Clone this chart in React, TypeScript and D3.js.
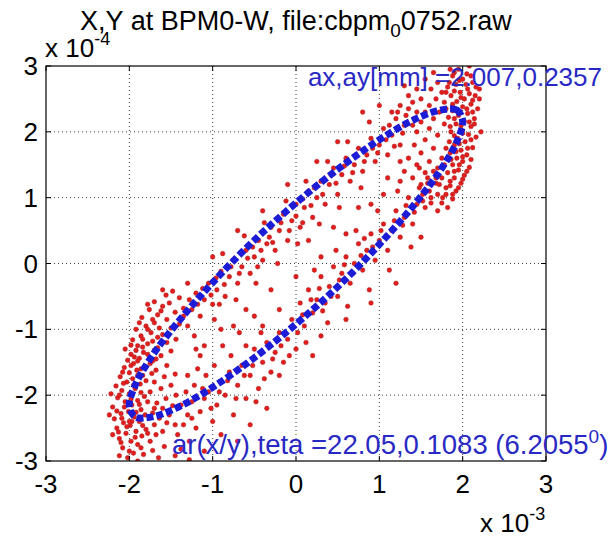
import React from "react";
import * as d3 from "d3";

// axis ticks (x in 1e-3, y in 1e-4)
const X_TICKS = [-3, -2, -1, 0, 1, 2, 3];
const Y_TICKS = [-3, -2, -1, 0, 1, 2, 3];

// fitted ellipse outline
const ELLIPSE_X = [2.0, 1.93, 1.73, 1.41, 1.0, 0.52, 0.0, -0.52, -1.0, -1.41, -1.73, -1.93, -2.0, -1.93, -1.73, -1.41, -1.0, -0.52, 0.0, 0.52, 1.0, 1.41, 1.73, 1.93];
const ELLIPSE_Y = [2.16, 2.33, 2.33, 2.18, 1.88, 1.45, 0.92, 0.33, -0.29, -0.88, -1.41, -1.85, -2.16, -2.33, -2.33, -2.18, -1.88, -1.45, -0.92, -0.33, 0.29, 0.88, 1.41, 1.85];

// measured beam positions (x 1e-3, y 1e-4)
const LEFT_END: [number, number][] = [
  [-2.02,-2.95],[-1.95,-2.88],[-2.08,-2.8],[-1.9,-2.75],[-1.98,-2.7],[-2.12,-2.66],[-1.85,-2.62],[-2.04,-2.58],[-1.92,-2.55],[-2.15,-2.5],
  [-1.8,-2.52],[-1.99,-2.46],[-2.07,-2.42],[-1.88,-2.4],[-2.18,-2.36],[-1.94,-2.33],[-1.76,-2.35],[-2.1,-2.28],[-2.01,-2.25],[-1.86,-2.22],
  [-2.2,-2.18],[-1.97,-2.15],[-2.05,-2.1],[-1.9,-2.08],[-2.14,-2.04],[-1.82,-2.02],[-2.0,-1.98],[-2.09,-1.93],[-1.93,-1.9],[-2.16,-1.86],
  [-1.87,-1.83],[-2.03,-1.8],[-1.96,-1.75],[-2.11,-1.72],[-1.84,-1.7],[-2.0,-1.66],[-1.91,-1.62],[-2.06,-1.58],[-1.8,-1.57],[-1.95,-1.52],
  [-2.02,-1.47],[-1.88,-1.44],[-1.98,-1.38],[-1.83,-1.35],[-2.05,-1.3],[-1.9,-1.25],[-1.78,-1.22],[-1.96,-1.16],[-1.86,-1.1],[-1.74,-1.05],
  [-1.92,-1.0],[-1.8,-0.95],[-1.7,-0.9],[-1.85,-0.82],[-1.66,-0.78],[-1.76,-0.7],[-1.6,-0.65],
  [-2.12,-2.92],[-1.83,-2.9],[-1.72,-2.84],[-1.65,-2.95],[-1.58,-2.78],[-1.75,-2.7],[-1.68,-2.6],[-1.6,-2.55],[-1.7,-2.45],[-1.55,-2.42],
  [-1.64,-2.35],[-1.52,-2.3],[-1.72,-2.27],[-1.6,-2.2],[-1.48,-2.16],[-1.67,-2.12],[-1.56,-2.05],[-1.44,-2.0],[-1.75,-1.95],[-1.62,-1.9],
  [-1.5,-1.85],[-1.7,-1.8],[-1.58,-1.72],[-1.45,-1.68],[-1.68,-1.62],[-1.55,-1.55],[-1.72,-1.48],[-1.62,-1.4],[-1.5,-1.33],[-1.66,-1.28],
  [-1.55,-1.2],[-1.44,-1.15],[-1.6,-1.08],[-1.5,-0.98],[-1.4,-0.92],[-1.55,-0.85],[-1.45,-0.74],[-1.35,-0.68],[-1.52,-0.6],[-1.4,-0.52],
  [-2.24,-2.3],[-2.22,-1.98],[-2.2,-2.6],[-1.9,-3.0],[-1.45,-2.92],[-1.28,-2.98],
  [-2.0,-2.85],[-1.86,-2.8],[-2.1,-2.72],[-1.93,-2.64],[-1.78,-2.58],[-2.13,-2.56],[-2.03,-2.48],[-1.84,-2.46],[-1.97,-2.4],[-2.09,-2.35],
  [-1.81,-2.3],[-1.92,-2.26],[-2.15,-2.24],[-1.7,-2.2],[-2.06,-2.18],[-1.88,-2.14],[-1.98,-2.06],[-1.78,-2.1],[-2.12,-2.0],[-1.86,-1.96],
  [-1.95,-1.85],[-2.07,-1.82],[-1.8,-1.78],[-1.9,-1.7],[-2.08,-1.65],[-1.73,-1.67],[-1.86,-1.6],[-1.98,-1.55],[-1.75,-1.52],[-1.9,-1.48],
  [-1.68,-1.45],[-1.94,-1.42],[-1.78,-1.38],[-1.92,-1.32],[-1.7,-1.32],[-1.84,-1.27],[-1.98,-1.24],[-1.72,-1.18],[-1.84,-1.15],[-1.66,-1.12],
  [-1.78,-1.0],[-1.64,-0.98],[-1.88,-0.9],[-1.72,-0.85],[-1.62,-0.72],[-1.56,-0.48],[-1.7,-0.58],[-1.48,-0.42],[-1.78,-0.62],[-2.0,-2.4]
];
const LOWER_LEFT: [number, number][] = [
  [-1.42,-2.6],[-1.35,-2.45],[-1.3,-2.3],[-1.38,-2.15],[-1.25,-2.1],[-1.32,-1.95],[-1.2,-2.5],[-1.15,-2.25],[-1.1,-2.05],[-1.22,-1.85],
  [-1.05,-1.95],[-1.0,-2.4],[-0.95,-2.15],[-0.9,-1.8],[-1.08,-1.7],[-0.85,-2.0],[-0.8,-1.65],[-0.75,-2.3],[-0.7,-1.85],[-0.65,-1.55],
  [-0.6,-2.05],[-0.55,-1.7],[-0.5,-1.3],[-0.45,-1.9],[-0.4,-1.5],[-0.35,-1.2],[-0.3,-1.65],[-0.25,-1.35],[-0.2,-1.05],[-0.15,-1.5],
  [-0.1,-1.15],[-0.05,-0.85],[0.0,-1.3],[-1.28,-2.7],[-1.1,-2.85],[-0.9,-2.6],[-0.7,-2.7],[-0.55,-2.45],[-0.35,-2.2],[-1.18,-1.6],
  [-0.98,-1.55],[-0.78,-1.4],[-0.6,-1.25],[-0.42,-1.05],[-1.3,-1.7],[-1.15,-1.4],[-0.88,-1.25],[-0.68,-1.05],[-0.5,-0.8],
  [-1.25,-2.35],[-1.12,-1.9],[-1.02,-2.2],[-0.92,-1.95],[-0.82,-1.78],[-0.72,-2.05],[-0.62,-1.7],[-0.52,-1.55],[-0.48,-2.1],[-0.38,-1.75],
  [-0.28,-1.45],[-0.18,-1.25],[-0.08,-1.4],[0.02,-1.05],[-1.45,-2.45],[-1.38,-2.82]
];
const UPPER_BRANCH: [number, number][] = [
  [-1.3,-0.95],[-1.25,-0.7],[-1.2,-0.45],[-1.15,-0.8],[-1.1,-0.55],[-1.05,-0.3],[-1.0,-0.62],[-0.95,-0.4],[-0.9,-0.12],[-0.85,-0.5],
  [-0.8,-0.2],[-0.75,0.05],[-0.7,-0.3],[-0.65,-0.05],[-0.6,0.2],[-0.55,-0.15],[-0.5,0.1],[-0.45,0.35],[-0.4,0.05],[-0.35,0.3],
  [-0.3,0.55],[-0.25,0.2],[-0.2,0.5],[-0.15,0.75],[-0.1,0.35],[-0.05,0.65],[0.0,0.9],[0.05,0.55],[0.1,0.85],[0.15,1.1],
  [0.2,0.7],[0.25,1.0],[0.3,1.25],[0.35,0.9],[0.4,1.2],[0.45,1.45],[0.5,1.05],[0.55,1.35],[0.6,1.6],[0.65,1.25],
  [0.7,1.5],[0.75,1.75],[0.8,1.4],[0.85,1.65],[0.9,1.9],[0.95,1.55],[1.0,1.8],[1.05,2.05],[1.1,1.65],[1.15,1.95],
  [1.2,2.2],[1.25,1.8],[1.3,2.1],[1.35,2.35],[-1.22,-1.1],[-0.98,-0.85],[-0.72,-0.55],[-0.48,-0.3],[-0.22,0.0],[0.02,0.3],
  [0.28,0.6],[0.52,0.85],[0.78,1.15],[-0.88,0.15],[-0.62,0.42],[-0.38,0.62],[-0.12,0.95],[0.12,1.25],[0.38,1.55],[0.62,1.85],[0.88,2.15],
  [-1.35,-0.8],[-1.28,-0.55],[-1.18,-0.62],[-1.12,-0.38],[-1.02,-0.48],[-0.96,-0.22],[-0.86,-0.32],[-0.78,-0.05],[-0.68,-0.15],[-0.58,0.08],
  [-0.52,0.25],[-0.42,0.2],[-0.32,0.4],[-0.28,0.32],[-0.18,0.62],[-0.08,0.5],[0.0,0.72],[0.08,0.98],[0.18,0.88],[0.22,1.15],
  [0.32,1.05],[0.42,1.35],[0.48,1.22],[0.58,1.48],[0.68,1.38],[0.72,1.65],[0.82,1.55],[0.92,1.75],[0.98,1.68],[1.08,1.88],
  [1.12,2.1],[1.18,1.78],[1.28,1.98],[1.32,2.25],[1.4,2.1],[1.22,2.3],[1.42,2.2],[-0.92,-0.62],[-0.46,-0.05],[0.08,0.62]
];
const LOWER_RIGHT: [number, number][] = [
  [0.05,-0.6],[0.1,-0.95],[0.15,-0.4],[0.2,-0.75],[0.25,-0.55],[0.3,-0.2],[0.35,-0.6],[0.4,-0.35],[0.45,-0.05],[0.5,-0.5],
  [0.55,-0.15],[0.6,0.1],[0.65,-0.3],[0.7,0.0],[0.75,0.3],[0.8,-0.1],[0.85,0.2],[0.9,0.45],[0.95,0.05],[1.0,0.35],
  [1.05,0.6],[1.1,0.2],[1.15,0.5],[1.2,0.8],[1.25,0.4],[1.3,0.7],[1.35,1.0],[1.4,0.6],[1.45,0.9],[1.5,1.2],
  [1.55,0.85],[1.6,1.1],[1.65,1.4],[1.7,1.05],[0.12,-1.2],[0.38,-0.9],[0.62,-0.65],[0.88,-0.4],[1.12,-0.1],[1.38,0.25],
  [0.22,-0.1],[0.48,0.2],[0.72,0.5],[0.98,0.8],[1.22,1.1],[1.48,1.45],
  [0.08,-0.78],[0.18,-0.55],[0.28,-0.38],[0.32,-0.72],[0.42,-0.5],[0.52,-0.25],[0.58,-0.02],[0.68,-0.15],[0.78,0.12],[0.82,0.38],
  [0.92,0.25],[1.02,0.5],[1.08,0.42],[1.18,0.65],[1.28,0.58],[1.32,0.88],[1.42,0.78],[1.52,1.05],[1.58,1.3],[1.62,0.92],
  [1.68,1.22],[1.75,1.3],[1.78,1.5],[1.8,1.75]
];
const RIGHT_END: [number, number][] = [
  [1.95,2.95],[2.05,2.88],[1.88,2.85],[2.0,2.8],[2.12,2.75],[1.92,2.72],[1.82,2.68],[2.06,2.65],[1.97,2.6],[2.15,2.55],
  [1.86,2.55],[2.02,2.5],[1.93,2.46],[2.1,2.42],[1.78,2.45],[2.0,2.38],[2.18,2.35],[1.88,2.32],[2.06,2.28],[1.95,2.25],
  [2.14,2.2],[1.83,2.22],[2.02,2.16],[1.92,2.12],[2.1,2.08],[1.98,2.04],[1.86,2.0],[2.07,1.96],[2.16,1.92],[1.94,1.9],
  [2.03,1.85],[1.9,1.8],[2.12,1.76],[1.98,1.72],[1.85,1.68],[2.05,1.65],[1.93,1.6],[2.0,1.55],[1.88,1.5],[2.08,1.46],
  [1.95,1.42],[1.82,1.38],[2.02,1.34],[1.9,1.3],[1.98,1.22],[1.85,1.18],[1.92,1.1],[1.8,1.05],[1.88,0.98],[1.75,0.92],
  [1.82,0.85],[1.7,0.8],[1.75,2.6],[1.68,2.5],[1.6,2.4],[1.72,2.3],[1.55,2.3],[1.65,2.2],[1.5,2.15],[1.78,2.12],
  [1.6,2.05],[1.45,2.0],[1.7,1.95],[1.55,1.88],[1.42,1.8],[1.65,1.75],[1.5,1.68],[1.75,1.6],[1.6,1.55],[1.45,1.5],
  [1.7,1.45],[1.55,1.38],[1.68,1.3],[1.58,1.22],[1.48,1.15],[1.72,1.2],[1.62,1.0],[1.52,0.95],[1.35,1.6],[1.3,1.4],
  [1.4,1.3],[1.25,1.55],[2.2,2.5],[2.22,2.0],[2.2,2.65],[1.85,2.95],[2.08,3.0],[1.7,2.75],[1.62,2.65],[1.5,2.5],
  [1.4,2.45],[1.45,2.3],[1.35,2.55],[1.25,2.4],[1.15,2.3],[1.3,2.7],[1.55,2.8],[1.45,2.65],[1.65,2.9],
  [1.9,2.9],[2.1,2.85],[1.96,2.78],[1.84,2.75],[2.04,2.72],[2.16,2.68],[1.9,2.62],[2.08,2.58],[1.8,2.6],[1.98,2.52],
  [2.12,2.48],[1.88,2.42],[2.05,2.35],[1.95,2.3],[1.8,2.35],[2.12,2.3],[1.9,2.2],[2.08,2.15],[1.98,2.1],[1.85,2.08],
  [2.14,2.12],[2.0,1.98],[1.9,1.94],[2.1,1.88],[1.96,1.82],[1.84,1.85],[2.06,1.75],[1.92,1.7],[2.0,1.62],[1.86,1.58],
  [2.1,1.58],[1.96,1.5],[2.05,1.4],[1.9,1.4],[1.85,1.25],[2.0,1.28],[1.95,1.15],[1.8,1.15],[1.88,1.05],[1.76,1.0]
];
const SCATTERED: [number, number][] = [
  [-0.9,-1.0],[-0.6,-0.7],[-0.3,-0.4],[0.0,-0.2],[0.3,0.1],[0.6,0.45],[0.9,0.9],[-1.1,-1.25],[-0.2,-0.7],[0.45,0.55],
  [1.1,1.3],[-0.75,-0.95],[0.15,0.35],[0.75,0.85],[1.05,1.05],[-0.4,-0.95],[-1.2,-1.3],[1.25,1.25],
  [-1.6,-0.4],[-1.3,-0.3],[-1.0,0.1],[-0.7,0.5],[-0.4,0.8],[-0.1,1.2],[0.25,1.55],[0.5,1.85],[0.8,2.3],[1.0,2.4],
  [0.3,-1.1],[0.6,-0.85],[0.9,-0.6],[1.2,-0.3],[1.5,0.4],[0.2,-1.4],[-0.2,-1.7]
];

const TITLE_MAIN = "X,Y at BPM0-W, file:cbpm";
const TITLE_SUB = "0";
const TITLE_TAIL = "0752.raw";
const ANNOT_TOP = "ax,ay[mm] =2.007,0.2357";
const ANNOT_BOTTOM = "ar(x/y),teta =22.05,0.1083 (6.2055";
const ANNOT_BOTTOM_SUP = "0";

const W = 614, H = 540;
const L = 46, R = 546, T = 66, B = 461;
const FONT = "'Liberation Sans', Arial, Helvetica, sans-serif";
const BLUE = "#1c1cd6";
const TEXT_BLUE = "#2828c4";

export default function App() {
  const x = d3.scaleLinear().domain([-3, 3]).range([L, R]);
  const y = d3.scaleLinear().domain([-3, 3]).range([B, T]);
  const pts = [...LEFT_END, ...LOWER_LEFT, ...UPPER_BRANCH, ...LOWER_RIGHT, ...RIGHT_END, ...SCATTERED];
  const ellipsePts: [number, number][] = ELLIPSE_X.map((v, i) => [v, ELLIPSE_Y[i]]);
  const ellipsePath = d3.line<[number, number]>().x(d => x(d[0])).y(d => y(d[1])).curve(d3.curveCatmullRomClosed)(ellipsePts) || "";

  return (
    <svg width={W} height={H} style={{ position: "absolute", left: 0, top: 0, background: "#fff" }} fontFamily={FONT}>
      <defs>
        <clipPath id="plotclip"><rect x={L} y={T} width={R - L} height={B - T} /></clipPath>
      </defs>
      <rect x={0} y={0} width={W} height={H} fill="#fff" />
      {X_TICKS.slice(1, -1).map(t => (
        <line key={"gx" + t} x1={x(t)} x2={x(t)} y1={T} y2={B} stroke="#444" strokeWidth={1} strokeDasharray="1,3" />
      ))}
      {Y_TICKS.slice(1, -1).map(t => (
        <line key={"gy" + t} x1={L} x2={R} y1={y(t)} y2={y(t)} stroke="#444" strokeWidth={1} strokeDasharray="1,3" />
      ))}
      <g clipPath="url(#plotclip)">
        {pts.map((p, i) => (
          <circle key={i} cx={x(p[0])} cy={y(p[1])} r={2.3} fill="#e31c1c" stroke="#a82020" strokeWidth={0.5} />
        ))}
        <path d={ellipsePath} fill="none" stroke={BLUE} strokeWidth={7} strokeDasharray="7,3" />
      </g>
      <rect x={L} y={T} width={R - L} height={B - T} fill="none" stroke="#000" strokeWidth={1.2} />
      {X_TICKS.map(t => (
        <g key={"tx" + t}>
          <line x1={x(t)} x2={x(t)} y1={B} y2={B - 5} stroke="#000" />
          <line x1={x(t)} x2={x(t)} y1={T} y2={T + 5} stroke="#000" />
          <text x={x(t)} y={B + 32} fontSize={26} textAnchor="middle" fill="#000">{t < 0 ? "-" + Math.abs(t) : t}</text>
        </g>
      ))}
      {Y_TICKS.map(t => (
        <g key={"ty" + t}>
          <line x1={L} x2={L + 5} y1={y(t)} y2={y(t)} stroke="#000" />
          <line x1={R} x2={R - 5} y1={y(t)} y2={y(t)} stroke="#000" />
          <text x={L - 8} y={y(t) + 9} fontSize={26} textAnchor="end" fill="#000">{t < 0 ? "-" + Math.abs(t) : t}</text>
        </g>
      ))}
      <text x={45} y={57} fontSize={26} fill="#000">x 10<tspan dy={-12} fontSize={18}>-4</tspan></text>
      <text x={480} y={532} fontSize={26} fill="#000">x 10<tspan dy={-12} fontSize={18}>-3</tspan></text>
      <text x={(L + R) / 2} y={30} fontSize={27} textAnchor="middle" fill="#000">
        {TITLE_MAIN}<tspan dy={7} fontSize={19}>{TITLE_SUB}</tspan><tspan dy={-7}>{TITLE_TAIL}</tspan>
      </text>
      <text x={602} y={86} fontSize={26} textAnchor="end" fill={TEXT_BLUE}>{ANNOT_TOP}</text>
      <text x={172} y={454} fontSize={27.5} fill={TEXT_BLUE}>
        {ANNOT_BOTTOM}<tspan dy={-11} fontSize={19}>{ANNOT_BOTTOM_SUP}</tspan><tspan dy={11}>)</tspan>
      </text>
    </svg>
  );
}
